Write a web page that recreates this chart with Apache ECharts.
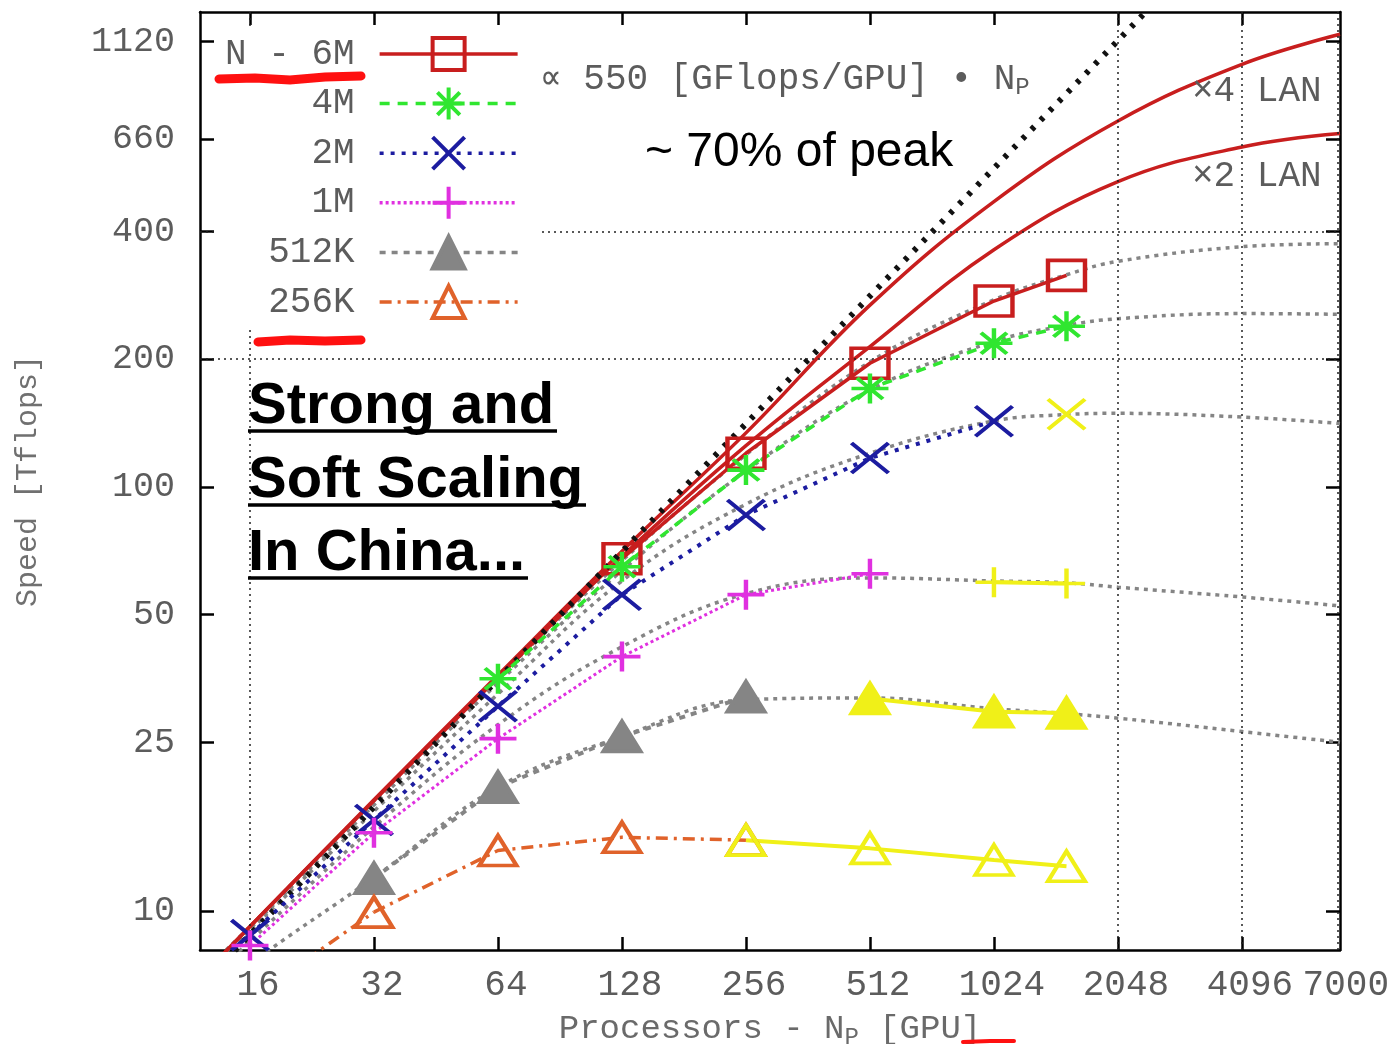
<!DOCTYPE html>
<html><head><meta charset="utf-8">
<script src="https://cdn.jsdelivr.net/npm/echarts@6/dist/echarts.min.js"></script>
<style>html,body{margin:0;padding:0;background:#fff}#c{width:1392px;height:1044px}</style>
</head><body><div id="c"></div>
<script>
// ---------- tick labels ----------
const xTicks = [16, 32, 64, 128, 256, 512, 1024, 2048, 4096];
const xLabels = [16, 32, 64, 128, 256, 512, 1024, 2048, 4096, 7000];
const yTicks = [10, 25, 50, 100, 200, 400, 660, 1120];
const xGrid = [16, 2048, 4096, 7000];
const yGrid = [200, 400];

// ---------- measured series (N_P [GPU], Speed [Tflops]) ----------
const n6M = [128, 256, 512, 1024, 1536];
const v6M = [67.7, 120, 195.5, 274, 315];
const n4M = [64, 128, 256, 512, 1024, 1536];
const v4M = [35.3, 64.8, 109.5, 170.5, 218, 239];
const n2M = [16, 32, 64, 128, 256, 512, 1024];
const v2M = [8.78, 16.4, 30.4, 55.7, 85.8, 116.9, 142.8];
const n1M = [16, 32, 64, 128, 256, 512];
const v1M = [8.3, 15.3, 25.5, 39.8, 55.7, 62.4];
const n512K = [32, 64, 128, 256];
const v512K = [11.96, 19.6, 25.8, 32.0];
const n256K = [32, 64, 128, 256];
const v256K = [9.95, 13.9, 14.93, 14.7];

// points drawn in yellow
const n2MY = [1536], v2MY = [148.3];
const n1MY = [1024, 1536], v1MY = [59.6, 59.2];
const n512KY = [512, 1024, 1536], v512KY = [31.7, 29.5, 29.3];
const n256KY = [256, 512, 1024, 1536], v256KY = [14.7, 14.06, 13.2, 12.76];

// model curves
const nPeak = [12, 2400], vPeak = [6.6, 1320];
const nLan = [12, 16, 32, 64, 128, 256, 512, 1024, 2048, 4096, 7086];
const vLan4 = [6.9, 9.2, 18.3, 36, 70.5, 134, 268, 470, 728, 990, 1165];
const vLan2 = [6.9, 9.2, 18.2, 35.5, 68.5, 125, 214, 362, 524, 632, 680];
const nFit = [14, 16, 32, 64, 128, 256, 512, 1024, 1536, 2048, 4096, 7086];
const vFit6M = [8.1, 9.2, 18.2, 35.5, 67, 119, 197, 276, 316, 340, 368, 374];
const vFit4M = [8.0, 9.1, 17.8, 34.5, 63.5, 109, 169, 220, 240, 249, 256, 255];
const vFit2M = [7.9, 9.0, 17.2, 32.5, 60, 91, 120, 143, 148, 149, 146, 141];
const vFit1M = [7.5, 8.5, 15.8, 27.5, 42, 56, 61, 60, 59.4, 58, 55, 52.4];
const vFit512K = [6.6, 7.5, 12, 19.6, 25.8, 31.5, 31.8, 30, 29.2, 28.5, 26.5, 25];
const nFit256K = [22, 32], vFit256K = [7.7, 9.95];

const zip = (n, v) => n.map((x, i) => [x, v[i]]);
const MONO = '"Liberation Mono", "DejaVu Sans Mono", monospace';
const SANS = '"Liberation Sans", Arial, sans-serif';
const RED = '#c81e1e', GREEN = '#30e630', BLUE = '#1c1ca0', MAG = '#e030e0',
      GRAY = '#858585', ORANGE = '#e0622a', YEL = '#f0f018', TXT = '#5c5c5c';
const SYM_X = 'path://M0,0L10,10M10,0L0,10';
const SYM_PLUS = 'path://M5,0L5,10M0,5L10,5';
const SYM_AST = 'path://M0,5L10,5M5,0L5,10M1.5,1.5L8.5,8.5M8.5,1.5L1.5,8.5';
const SYM_SIZE = [37, 30];

function fit(name, data, color, type) {
  return { name, type: 'line', data, smooth: 0.4, symbol: 'none', silent: true, z: 2,
    lineStyle: { color: color || GRAY, width: 3.5, type: type || [4, 5] } };
}
function dataSeries(name, n, v, color, lineType, width, symbol, fill) {
  return { name, type: 'line', data: zip(n, v), color, symbol, symbolSize: SYM_SIZE,
    symbolKeepAspect: false, z: 5,
    lineStyle: { color, width, type: lineType },
    itemStyle: { color: fill, borderColor: color, borderWidth: 4 } };
}
function axisX(pos, show) {
  return { type: 'log', logBase: 2, min: 12.1, max: 7086, position: pos,
    axisLine: { show: true, lineStyle: { color: '#000', width: 2.5 } },
    axisTick: { show: true, inside: true, length: 13, customValues: xTicks, lineStyle: { color: '#000', width: 2.5 } },
    axisLabel: { show: show, customValues: xLabels, formatter: v => String(Math.round(v)),
      fontFamily: MONO, fontSize: 36, color: TXT, margin: 17, padding: [0, 0, 0, 16] },
    splitLine: { show: false }, minorTick: { show: false }, minorSplitLine: { show: false } };
}
function axisY(pos, show) {
  return { type: 'log', logBase: 2, min: 8.1, max: 1315, position: pos,
    axisLine: { show: true, lineStyle: { color: '#000', width: 2.5 } },
    axisTick: { show: true, inside: true, length: 14, customValues: yTicks, lineStyle: { color: '#000', width: 2.5 } },
    axisLabel: { show: show, customValues: yTicks, formatter: v => String(Math.round(v)),
      fontFamily: MONO, fontSize: 35, color: TXT, margin: 25 },
    splitLine: { show: false }, minorTick: { show: false }, minorSplitLine: { show: false } };
}

const xa0 = axisX('bottom', true);
xa0.name = '{a|Processors - N}{s|P}{a| [GPU]}';
xa0.nameLocation = 'middle';
xa0.nameGap = 58;
xa0.nameTextStyle = { fontFamily: MONO, fontSize: 34, color: '#6a6a6a',
  rich: { a: { fontFamily: MONO, fontSize: 34, color: '#6a6a6a' },
          s: { fontFamily: MONO, fontSize: 24, color: '#6a6a6a', padding: [18, 0, 0, 0] } } };
const ya0 = axisY('left', true);
ya0.name = 'Speed [Tflops]';
ya0.nameLocation = 'middle';
ya0.nameGap = 157;
ya0.nameRotate = 90;
ya0.nameTextStyle = { fontFamily: MONO, fontSize: 30, color: '#707070' };

const gridMarks = {
  symbol: 'none', silent: true, label: { show: false },
  lineStyle: { color: '#222', width: 1.5, type: [2, 4] },
  data: xGrid.map(x => ({ xAxis: x })).concat(yGrid.map(y => ({ yAxis: y })))
};

const series = [
  fit('fit 6M', zip(nFit, vFit6M)),
  fit('fit 4M', zip(nFit, vFit4M)),
  fit('fit 2M', zip(nFit, vFit2M)),
  fit('fit 1M', zip(nFit, vFit1M)),
  fit('fit 512K', zip(nFit, vFit512K)),
  fit('fit 256K', zip(nFit256K, vFit256K), ORANGE, [12, 6, 3, 6]),
  { name: 'x4 LAN', type: 'line', data: zip(nLan, vLan4), smooth: 0.4, symbol: 'none', silent: true, z: 3,
    lineStyle: { color: RED, width: 3.5 } },
  { name: 'x2 LAN', type: 'line', data: zip(nLan, vLan2), smooth: 0.4, symbol: 'none', silent: true, z: 3,
    lineStyle: { color: RED, width: 3.5 } },
  { name: 'peak', type: 'line', data: zip(nPeak, vPeak), symbol: 'none', silent: true, z: 4,
    lineStyle: { color: '#111', width: 6, type: [4, 9] }, markLine: gridMarks },
  dataSeries('N - 6M', n6M, v6M, RED, 'solid', 3.5, 'rect', 'rgba(255,255,255,0)'),
  dataSeries('4M', n4M, v4M, GREEN, [10, 8], 3.5, SYM_AST, GREEN),
  dataSeries('2M', n2M, v2M, BLUE, [4, 7], 4, SYM_X, BLUE),
  dataSeries('1M', n1M, v1M, MAG, [3, 3], 3, SYM_PLUS, MAG),
  dataSeries('512K', n512K, v512K, GRAY, [6, 6], 4, 'triangle', GRAY),
  dataSeries('256K', n256K, v256K, ORANGE, [12, 6, 3, 6], 3.5, 'triangle', 'rgba(255,255,255,0)'),
  dataSeries('2M*', n2MY, v2MY, YEL, 'solid', 4, SYM_X, YEL),
  dataSeries('1M*', n1MY, v1MY, YEL, 'solid', 4, SYM_PLUS, YEL),
  dataSeries('512K*', n512KY, v512KY, YEL, 'solid', 4, 'triangle', YEL),
  dataSeries('256K*', n256KY, v256KY, YEL, 'solid', 4, 'triangle', 'rgba(255,255,255,0)')
];

const bigText = (t, y) => ({ type: 'text', z: 100, silent: true,
  style: { text: t, x: 248, y: y, font: 'bold 58px ' + SANS, fill: '#000', verticalAlign: 'middle', textVerticalAlign: 'middle' } });
const uline = (x1, x2, y) => ({ type: 'line', z: 100, silent: true,
  shape: { x1, y1: y, x2, y2: y }, style: { stroke: '#000', lineWidth: 3.5 } });
const monoText = (t, x, y) => ({ type: 'text', z: 100, silent: true,
  style: { text: t, x, y, font: '36px ' + MONO, fill: TXT, verticalAlign: 'middle', textVerticalAlign: 'middle',
    rich: { s: { fontFamily: MONO, fontSize: 24, fill: TXT, color: TXT, padding: [18, 0, 0, 0] } } } });
const scribble = (pts, w) => ({ type: 'polyline', z: 100, silent: true,
  shape: { points: pts }, style: { stroke: '#ff1010', lineWidth: w, fill: null, lineCap: 'round' } });

const option = {
  animation: false,
  backgroundColor: '#fff',
  grid: { left: 200, top: 12, right: 52, bottom: 94, containLabel: false, outerBoundsMode: 'none' },
  xAxis: [xa0, axisX('top', false)],
  yAxis: [ya0, axisY('right', false)],
  legend: {
    orient: 'vertical', left: 218, top: 30, align: 'right',
    itemWidth: 138, itemHeight: 40, itemGap: 13.6,
    padding: [6, 22, 6, 7], backgroundColor: '#fff', selectedMode: false, z: 10,
    data: ['N - 6M', '4M', '2M', '1M', '512K', '256K'],
    lineStyle: { width: 3.5 },
    itemStyle: { borderWidth: 4 },
    textStyle: { fontFamily: MONO, fontSize: 36, color: TXT, padding: [0, 20, 0, 0] }
  },
  series,
  graphic: [
    bigText('Strong and', 407), uline(248, 557, 431),
    bigText('Soft Scaling', 481), uline(248, 586, 505),
    bigText('In China...', 554), uline(248, 528, 578),
    { type: 'text', z: 100, silent: true,
      style: { text: '~ 70% of peak', x: 645, y: 153, font: '48px ' + SANS, fill: '#000', verticalAlign: 'middle', textVerticalAlign: 'middle' } },
    monoText('\u221d 550 [GFlops/GPU] \u2022 N{s|P}', 540, 79),
    monoText('\u00d74 LAN', 1192, 91),
    monoText('\u00d72 LAN', 1192, 176),
    scribble([[219, 79], [255, 78], [290, 80], [325, 77], [361, 76]], 9),
    scribble([[258, 342], [290, 340], [325, 341], [361, 340]], 9),
    scribble([[963, 1042], [990, 1041], [1014, 1041]], 4)
  ]
};
const chart = echarts.init(document.getElementById('c'));
chart.setOption(option);
</script></body></html>
